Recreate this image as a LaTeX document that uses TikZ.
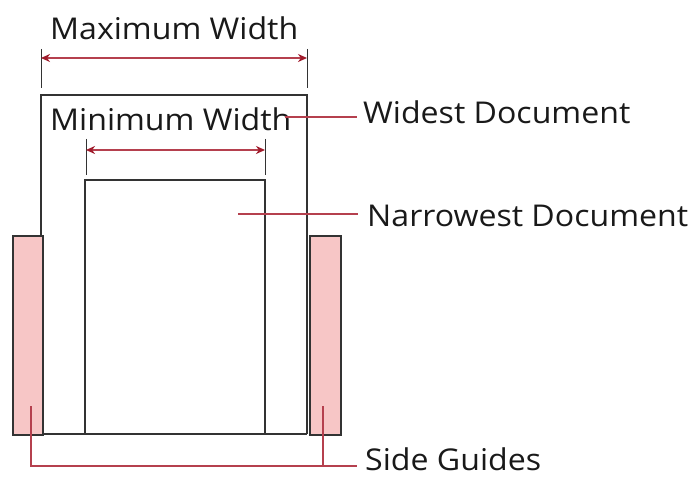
\documentclass[tikz,border=0pt]{standalone}
\usepackage{fontspec}
\setmainfont{Open Sans}[FakeStretch=1.07]
\usetikzlibrary{arrows.meta}
\definecolor{leader}{HTML}{B5404E}
\definecolor{arrowred}{HTML}{A01C2C}
\definecolor{guidefill}{HTML}{F7C6C6}
\definecolor{outline}{HTML}{333333}
\tikzset{
  docbox/.style={draw=outline, line width=2.2pt, fill=white},
  guidebox/.style={draw=outline, line width=2pt, fill=guidefill},
  extline/.style={draw=outline, line width=1pt},
  dimarrow/.style={draw=leader, line width=1.6pt, {Stealth[length=9pt,width=8pt,color=arrowred]}-{Stealth[length=9pt,width=8pt,color=arrowred]}},
  leaderline/.style={draw=leader, line width=2pt},
  lbl/.style={font=\fontsize{30}{32}\selectfont, text=black!90, inner sep=0pt},
}
\begin{document}
\begin{tikzpicture}[x=1pt,y=-1pt]
\useasboundingbox (0,0) rectangle (690,478);
% widest document
\draw[docbox] (41,434) -- (41,95) -- (307,95) -- (307,434);
% narrowest document
\draw[docbox] (85,434) -- (85,180) -- (265,180) -- (265,434);
\draw[docbox] (41,434) -- (307,434);
% side guides
\node[guidebox, minimum width=30pt, minimum height=199pt, inner sep=0pt, anchor=north west] (gl) at (12,235) {};
\node[guidebox, minimum width=31pt, minimum height=199pt, inner sep=0pt, anchor=north west] (gr) at (309,235) {};
% maximum width
\coordinate (mxl) at (41,58);
\coordinate (mxr) at (307,58);
\draw[extline] (41,49) -- (41,88);
\draw[extline] (307,49) -- (307,88);
\draw[dimarrow] (mxl) -- (mxr);
\node[lbl, anchor=base west] (maxw) at (50,40) {Maximum Width};
% minimum width
\coordinate (mnl) at (86,150);
\coordinate (mnr) at (265,150);
\draw[extline] (86,139) -- (86,175);
\draw[extline] (265,139) -- (265,175);
\draw[dimarrow] (mnl) -- (mnr);
\node[lbl, anchor=base west] (minw) at (50,131) {Minimum Width};
% labels
\node[lbl, anchor=base west] (wide) at (363,124) {Widest Document};
\node[lbl, anchor=base west] (narrow) at (367,226) {Narrowest Document};
\node[lbl, anchor=base west, text depth=0pt] (side) at (365,470) {Side Guides};
% leaders
\coordinate (wl) at (285,117);
\draw[leaderline] (wl) -- (357,117);
\coordinate (nl) at (238,214);
\draw[leaderline] (nl) -- (358,214);
\coordinate (sl) at (31,406);
\coordinate (sr) at (323,406);
\draw[leaderline] (sl) -- (31,466) -- (357,466);
\draw[leaderline] (sr) -- (323,466);
\end{tikzpicture}
\end{document}
